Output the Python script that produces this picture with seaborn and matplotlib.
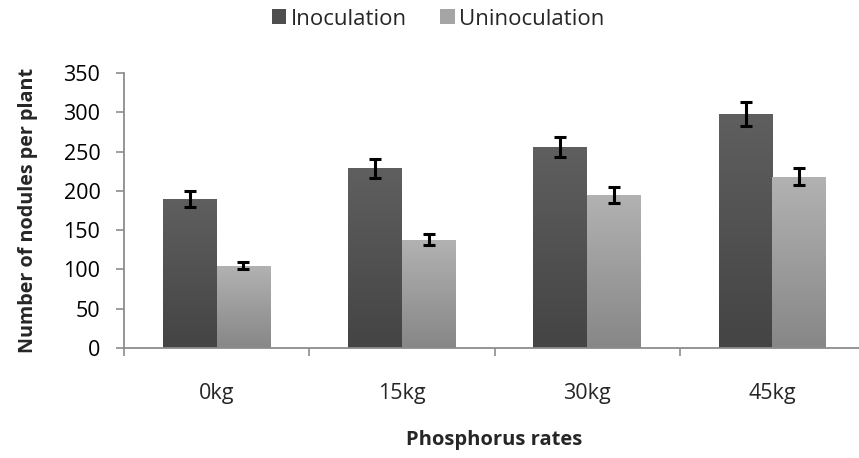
import matplotlib
matplotlib.use('Agg')
import matplotlib.pyplot as plt
import numpy as np
import pandas as pd
import seaborn as sns
from matplotlib.colors import LinearSegmentedColormap
from matplotlib.patches import Rectangle

rates = ['0kg', '15kg', '30kg', '45kg']
inoculation = [190, 229, 256, 298]
inoculation_err = [10, 12, 13, 15]
uninoculation = [105, 138, 195, 218]
uninoculation_err = [5, 7, 10, 11]

df = pd.DataFrame({
    'rate': rates * 2,
    'nodules': inoculation + uninoculation,
    'err': inoculation_err + uninoculation_err,
    'group': ['Inoculation'] * 4 + ['Uninoculation'] * 4,
})

sns.set_style('white')
plt.rcParams['font.family'] = ['Open Sans', 'DejaVu Sans']

fig = plt.figure(figsize=(8.59, 4.58), dpi=100)
ax = fig.add_axes([124 / 859, 1 - 348 / 458, 741 / 859, 275 / 458])

pal = {'Inoculation': '#535353', 'Uninoculation': '#9f9f9f'}
sns.barplot(data=df, x='rate', y='nodules', hue='group', palette=pal,
            width=0.58, gap=0, errorbar=None, legend=False, ax=ax)

# gradient fill for each bar
grads = {
    '#535353': LinearSegmentedColormap.from_list('d', ['#444444', '#5f5f5f']),
    '#9f9f9f': LinearSegmentedColormap.from_list('l', ['#878787', '#b2b2b2']),
}
bars = list(ax.patches)
for p in bars:
    hexc = matplotlib.colors.to_hex(p.get_facecolor())
    cmap = grads['#535353'] if hexc == '#535353' else grads['#9f9f9f']
    x0, y0, w, h = p.get_x(), p.get_y(), p.get_width(), p.get_height()
    im = ax.imshow(np.linspace(0, 1, 100).reshape(-1, 1), cmap=cmap, origin='lower',
                   extent=[x0, x0 + w, y0, y0 + h], aspect='auto', zorder=2)
    im.set_clip_path(p)
    p.set_edgecolor('none')
ax.set_xlim(-0.5, 3.5)
ax.set_ylim(0, 350)

errs = inoculation_err + uninoculation_err
for p, e in zip(bars, errs):
    ax.errorbar(p.get_x() + p.get_width() / 2, p.get_height(), yerr=e,
                fmt='none', ecolor='black', elinewidth=2.2, capsize=4.5,
                capthick=2.2, zorder=4)

for s in ['top', 'right']:
    ax.spines[s].set_visible(False)
for s in ['left', 'bottom']:
    ax.spines[s].set_color('#8c8c8c')
    ax.spines[s].set_linewidth(1.3)

fs = 15.5
ax.set_yticks(range(0, 351, 50))
ax.tick_params(axis='y', which='major', direction='out', length=6, width=1.2,
               color='#8c8c8c', left=True, labelsize=fs, labelcolor='black', pad=11)
ax.set_xticks(range(4))
ax.set_xticklabels(rates)
ax.set_xticks(np.arange(-0.5, 4, 1), minor=True)
ax.tick_params(axis='x', which='major', length=0, pad=25, labelsize=fs)
ax.tick_params(axis='x', which='minor', direction='out', length=6, width=1.2,
               color='#8c8c8c', bottom=True)

ax.set_xlabel('Phosphorus rates', fontsize=14.5, fontweight='bold', labelpad=19)
ax.set_ylabel('Number of nodules per plant', fontsize=14.2, fontweight='bold', labelpad=18)

handles = [Rectangle((0, 0), 1, 1, facecolor=c, edgecolor='none') for c in ['#4e4e4e', '#a5a5a5']]
fig.legend(handles, ['Inoculation', 'Uninoculation'], loc='upper center',
           bbox_to_anchor=(0.51, 1.025), ncol=2, frameon=False, fontsize=16,
           handlelength=0.65, handleheight=0.65, handletextpad=0.2, columnspacing=1.5)

fig.savefig('out.png', dpi=100)
